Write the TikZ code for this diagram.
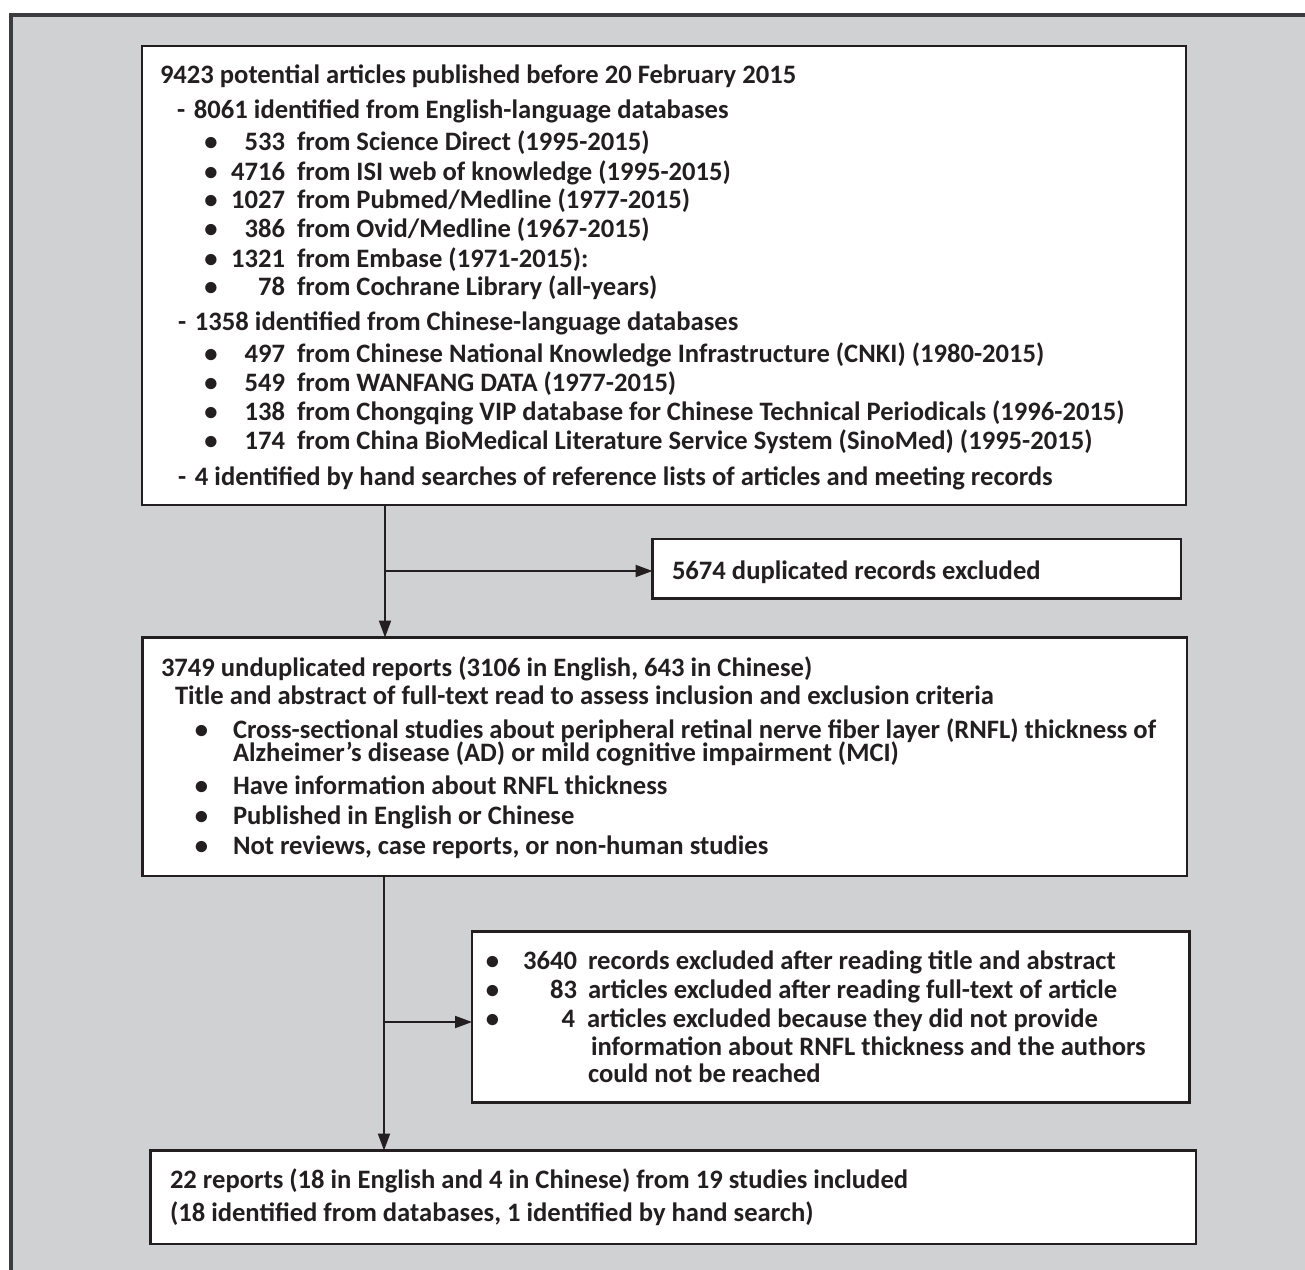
\documentclass[tikz,border=0pt]{standalone}
\usepackage{fontspec}
\setmainfont{Carlito}
\usetikzlibrary{arrows.meta,fit}
\definecolor{bggray}{HTML}{D0D1D3}
\definecolor{ink}{HTML}{231F20}
\definecolor{framec}{HTML}{3C3C3E}
\tikzset{
  txt/.style={inner sep=0pt, outer sep=0pt, text=ink, font=\bfseries\fontsize{13.3pt}{15pt}\selectfont},
  boxnode/.style={draw=ink, fill=white, line width=1.2pt, inner sep=0pt, outer sep=0pt},
  arr/.style={draw=ink, line width=1pt, -{Triangle[length=8.5pt,width=6pt]}}
}
\newcommand\bitem[7]{%
  \node[txt,anchor=base] (#1b) at (#2,#5) {•};
  \node[txt,anchor=base east] (#1n) at (#3,#5) {#6};
  \node[txt,anchor=base west] (#1t) at (#4,#5) {#7};}
\begin{document}
\begin{tikzpicture}[x=0.5pt,y=-0.5pt]
\useasboundingbox (0,0) rectangle (1305,1269);
\begin{scope}
\clip (0,0) rectangle (1305,1269);
\fill[white] (0,0) rectangle (1305,1269);
\draw[framec, fill=bggray, line width=2pt] (10.5,15.3) rectangle (1340,1300);
\end{scope}

% boxes
\node[boxnode, fit={(142,46) (1186,505)}] (b1) {};
\node[boxnode, fit={(652.5,539) (1181,598.5)}] (dup) {};
\node[boxnode, fit={(142.5,637.5) (1187,876)}] (b2) {};
\node[boxnode, fit={(472,931.5) (1189.5,1102.5)}] (excl) {};
\node[boxnode, fit={(150.5,1150.5) (1196,1244)}] (b4) {};

% connectors
\coordinate (v1) at (385,571);
\coordinate (v2) at (384,1022);
\draw[arr] (b1.south -| v1) -- (b2.north -| v1);
\draw[arr] (v1) -- (v1 -| dup.west);
\draw[arr] (b2.south -| v2) -- (b4.north -| v2);
\draw[arr] (v2) -- (v2 -| excl.west);

% box 1 text
\node[txt,anchor=base west] (t1) at (160,83) {9423 potential articles published before 20 February 2015};
\node[txt,anchor=base west] (t2) at (177,118) {\makebox[8.5pt][l]{-}8061 identified from English-language databases};
\bitem{e1}{211}{285}{297}{150}{533}{from Science Direct (1995-2015)}
\bitem{e2}{211}{285}{297}{180}{4716}{from ISI web of knowledge (1995-2015)}
\bitem{e3}{211}{285}{297}{208}{1027}{from Pubmed/Medline (1977-2015)}
\bitem{e4}{211}{285}{297}{237}{386}{from Ovid/Medline (1967-2015)}
\bitem{e5}{211}{285}{297}{267}{1321}{from Embase (1971-2015):}
\bitem{e6}{211}{285}{297}{295}{78}{from Cochrane Library (all-years)}
\node[txt,anchor=base west] (t3) at (178,330) {\makebox[8.5pt][l]{-}1358 identified from Chinese-language databases};
\bitem{c1}{211}{285}{297}{362}{497}{from Chinese National Knowledge Infrastructure (CNKI) (1980-2015)}
\bitem{c2}{211}{285}{297}{391}{549}{from WANFANG DATA (1977-2015)}
\bitem{c3}{211}{285}{297}{420}{138}{from Chongqing VIP database for Chinese Technical Periodicals (1996-2015)}
\bitem{c4}{211}{285}{297}{449}{174}{from China BioMedical Literature Service System (SinoMed) (1995-2015)}
\node[txt,anchor=base west] (t4) at (178,485) {\makebox[8.5pt][l]{-}4 identified by hand searches of reference lists of articles and meeting records};

% duplicate box text
\node[txt,anchor=base west] (t5) at (672,579) {5674 duplicated records excluded};

% box 2 text
\node[txt,anchor=base west] (t6) at (161,676) {3749 unduplicated reports (3106 in English, 643 in Chinese)};
\node[txt,anchor=base west] (t7) at (175,704) {Title and abstract of full-text read to assess inclusion and exclusion criteria};
\node[txt,anchor=base] (s1b) at (201.5,738) {•};
\node[txt,anchor=base west] (s1t) at (233,738) {\vtop{\baselineskip=11.5pt\lineskiplimit=-100pt\lineskip=0pt
  \hbox{Cross-sectional studies about peripheral retinal nerve fiber layer (RNFL) thickness of}
  \hbox{Alzheimer’s disease (AD) or mild cognitive impairment (MCI)}}};
\node[txt,anchor=base] (s2b) at (201.5,794) {•};
\node[txt,anchor=base west] (s2t) at (233,794) {Have information about RNFL thickness};
\node[txt,anchor=base] (s3b) at (201.5,824) {•};
\node[txt,anchor=base west] (s3t) at (233,824) {Published in English or Chinese};
\node[txt,anchor=base] (s4b) at (201.5,854) {•};
\node[txt,anchor=base west] (s4t) at (233,854) {Not reviews, case reports, or non-human studies};

% exclusion box text
\bitem{x1}{492.5}{577}{588}{969}{3640}{records excluded after reading title and abstract}
\bitem{x2}{492.5}{577}{588}{998}{83}{articles excluded after reading full-text of article}
\bitem{x3}{492.5}{575}{587}{1027}{4}{articles excluded because they did not provide}
\node[txt,anchor=base west] (x3u) at (591,1055) {information about RNFL thickness and the authors};
\node[txt,anchor=base west] (x3v) at (588,1082) {could not be reached};

% final box text
\node[txt,anchor=base west] (t8) at (170,1188) {22 reports (18 in English and 4 in Chinese) from 19 studies included};
\node[txt,anchor=base west] (t9) at (170,1221) {(18 identified from databases, 1 identified by hand search)};
\end{tikzpicture}
\end{document}
